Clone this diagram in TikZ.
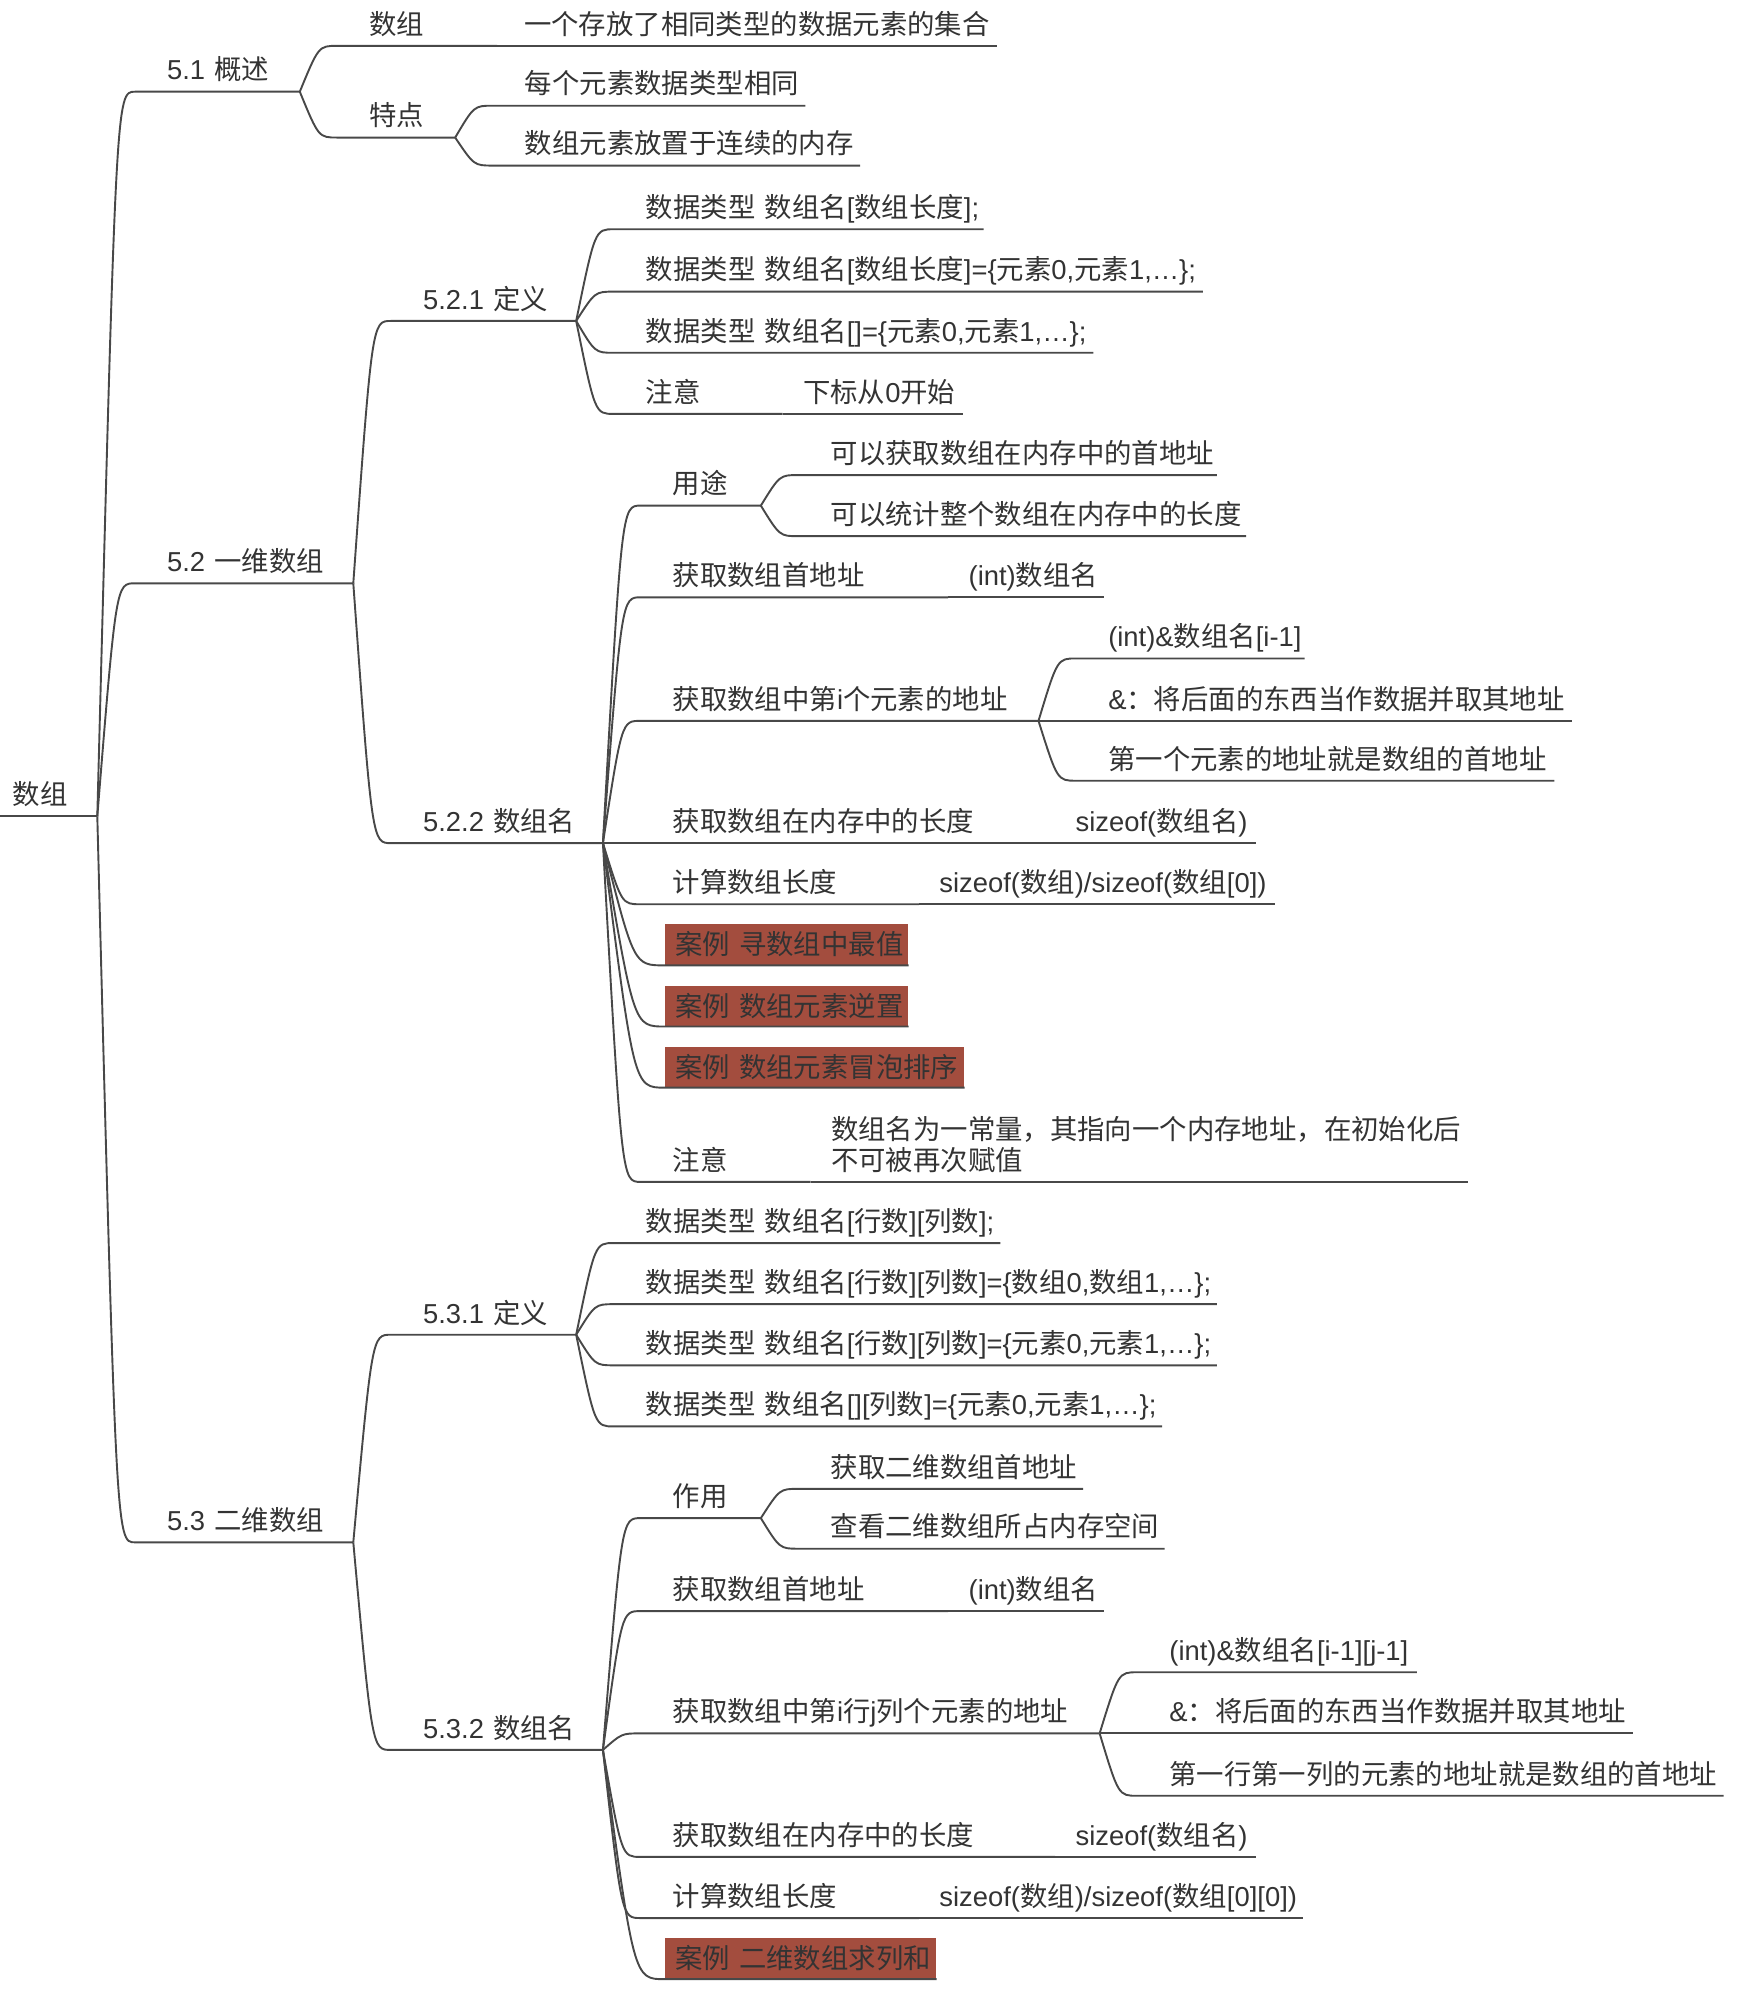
\documentclass[tikz,border=0pt]{standalone}
\usepackage{fontspec}
\setmainfont{Liberation Sans}
\newfontfamily\cjkfont{Noto Sans CJK SC}
\newfontfamily\latinfont{Liberation Sans}
\usepackage{tikz}
\usetikzlibrary{calc}

% Chinese characters switch to the CJK font by themselves
\XeTeXinterchartokenstate=1
\chardef\cjkclass=10
\newcount\cjkc
\newcommand\cjkrange[2]{\cjkc=#1
  \loop\XeTeXcharclass\cjkc=\cjkclass
  \ifnum\cjkc<#2 \advance\cjkc by 1 \repeat}
\cjkrange{"3000}{"303F}
\cjkrange{"4E00}{"9FFF}
\cjkrange{"FF00}{"FFEF}
\XeTeXinterchartoks 0 \cjkclass = {\cjkfont}
\XeTeXinterchartoks 4095 \cjkclass = {\cjkfont}
\XeTeXinterchartoks \cjkclass 0 = {\latinfont}
\XeTeXinterchartoks \cjkclass 4095 = {\latinfont}

\definecolor{lineGray}{RGB}{72,72,72}
\definecolor{textGray}{RGB}{51,51,51}
\definecolor{caseRed}{RGB}{163,77,62}

\begin{document}
\begin{tikzpicture}[x=1pt, y=-1pt,
  font=\fontsize{21.5pt}{24pt}\selectfont, text=textGray,
  link/.style={draw=lineGray, line width=1.5pt},
  branch/.style={to path={let \p1=(\tikztostart), \p2=(\tikztotarget) in
    .. controls ({0.5*\x1+0.5*\x2},\y2) .. (\tikztotarget)}},
  pad/.style={execute at begin node={\leftskip=#1\rightskip=0pt minus 300pt\relax
    \exhyphenpenalty=10000 }},
  topic/.style={anchor=south west, inner xsep=0pt, inner ysep=9pt, text width=#1,
    text height=16pt, text depth=0pt, pad=25pt},
  case/.style={topic=#1, inner ysep=8pt, fill=caseRed, pad=8pt}]
\useasboundingbox (0,0) rectangle (1370,1568);

% root and first level
\node[topic=76pt, pad=10pt] (root) at (0,641) {数组};
\node[topic=129pt] (s51) at (106,72) {5.1 概述};
\node[topic=171pt] (s52) at (106,458) {5.2 一维数组};
\node[topic=171pt] (s53) at (106,1211) {5.3 二维数组};

% 5.1
\node[topic=125pt] (arr) at (265,36) {数组};
\node[topic=392pt, pad=21pt] (arrdef) at (arr.south east) {一个存放了相同类型的数据元素的集合};
\node[topic=92pt] (feat) at (265,108) {特点};
\node[topic=245pt] (feat1) at (387,83) {每个元素数据类型相同};
\node[topic=288pt] (feat2) at (387,130) {数组元素放置于连续的内存};

% 5.2
\node[topic=145pt] (def1) at (307,252) {5.2.1 定义};
\node[topic=290pt] (def1a) at (482,180) {数据类型 数组名[数组长度];};
\node[topic=462pt] (def1b) at (482,229) {数据类型 数组名[数组长度]=\{元素0,元素1,…\};};
\node[topic=376pt] (def1c) at (482,277) {数据类型 数组名[]=\{元素0,元素1,…\};};
\node[topic=132pt] (def1d) at (482,325) {注意};
\node[topic=141pt, pad=16pt] (def1e) at (def1d.south east) {下标从0开始};

\node[topic=166pt] (name1) at (307,662) {5.2.2 数组名};
\node[topic=94pt] (use1) at (503,397) {用途};
\node[topic=328pt] (use1a) at (627,373) {可以获取数组在内存中的首地址};
\node[topic=351pt] (use1b) at (627,421) {可以统计整个数组在内存中的长度};
\node[topic=241pt] (addr1) at (503,469) {获取数组首地址};
\node[topic=122pt, pad=16pt] (addr1v) at (addr1.south east) {(int)数组名};
\node[topic=312pt] (elem1) at (503,566) {获取数组中第i个元素的地址};
\node[topic=179pt] (elem1a) at (845,517) {(int)\&数组名[i-1]};
\node[topic=389pt] (elem1b) at (845,566) {\&：将后面的东西当作数据并取其地址};
\node[topic=375pt] (elem1c) at (845,613) {第一个元素的地址就是数组的首地址};
\node[topic=325pt] (size1) at (503,662) {获取数组在内存中的长度};
\node[topic=157pt, pad=16pt] (size1v) at (size1.south east) {sizeof(数组名)};
\node[topic=218pt] (len1) at (503,710) {计算数组长度};
\node[topic=279pt, pad=16pt] (len1v) at (len1.south east) {sizeof(数组)/sizeof(数组[0])};
\node[case=191pt] (case1) at (522,758) {案例 寻数组中最值};
\node[case=191pt] (case2) at (522,806) {案例 数组元素逆置};
\node[case=235pt] (case3) at (522,854) {案例 数组元素冒泡排序};
\node[topic=133pt] (note1) at (503,928) {注意};
\node[topic=516pt, text depth=24pt, pad=16pt] (note1v) at (note1.south east)
  {数组名为一常量，其指向一个内存地址，在初始化后\\不可被再次赋值};

% 5.3
\node[topic=145pt] (def2) at (307,1048) {5.3.1 定义};
\node[topic=303pt] (def2a) at (482,976) {数据类型 数组名[行数][列数];};
\node[topic=473pt] (def2b) at (482,1024) {数据类型 数组名[行数][列数]=\{数组0,数组1,…\};};
\node[topic=473pt] (def2c) at (482,1072) {数据类型 数组名[行数][列数]=\{元素0,元素1,…\};};
\node[topic=430pt] (def2d) at (482,1120) {数据类型 数组名[][列数]=\{元素0,元素1,…\};};

\node[topic=166pt] (name2) at (307,1374) {5.3.2 数组名};
\node[topic=94pt] (use2) at (503,1192) {作用};
\node[topic=223pt] (use2a) at (627,1169) {获取二维数组首地址};
\node[topic=287pt] (use2b) at (627,1216) {查看二维数组所占内存空间};
\node[topic=241pt] (addr2) at (503,1265) {获取数组首地址};
\node[topic=122pt, pad=16pt] (addr2v) at (addr2.south east) {(int)数组名};
\node[topic=360pt] (elem2) at (503,1361) {获取数组中第i行j列个元素的地址};
\node[topic=219pt] (elem2a) at (893,1313) {(int)\&数组名[i-1][j-1]};
\node[topic=389pt] (elem2b) at (893,1361) {\&：将后面的东西当作数据并取其地址};
\node[topic=460pt] (elem2c) at (893,1410) {第一行第一列的元素的地址就是数组的首地址};
\node[topic=325pt] (size2) at (503,1458) {获取数组在内存中的长度};
\node[topic=157pt, pad=16pt] (size2v) at (size2.south east) {sizeof(数组名)};
\node[topic=218pt] (len2) at (503,1506) {计算数组长度};
\node[topic=301pt, pad=16pt] (len2v) at (len2.south east) {sizeof(数组)/sizeof(数组[0][0])};
\node[case=213pt] (case4) at (522,1554) {案例 二维数组求列和};

% branches
\draw[link] (root.south west) -- (root.south east);
\foreach \c in {s51,s52,s53}
  \draw[link] (root.south east) to[branch] (\c.south west) -- (\c.south east);
\foreach \c in {arr,feat}
  \draw[link] (s51.south east) to[branch] (\c.south west) -- (\c.south east);
\foreach \c in {feat1,feat2}
  \draw[link] (feat.south east) to[branch] (\c.south west) -- (\c.south east);
\foreach \c in {def1,name1}
  \draw[link] (s52.south east) to[branch] (\c.south west) -- (\c.south east);
\foreach \c in {def1a,def1b,def1c,def1d}
  \draw[link] (def1.south east) to[branch] (\c.south west) -- (\c.south east);
\foreach \c in {use1,addr1,elem1,size1,len1,case1,case2,case3,note1}
  \draw[link] (name1.south east) to[branch] (\c.south west) -- (\c.south east);
\foreach \c in {use1a,use1b}
  \draw[link] (use1.south east) to[branch] (\c.south west) -- (\c.south east);
\foreach \c in {elem1a,elem1b,elem1c}
  \draw[link] (elem1.south east) to[branch] (\c.south west) -- (\c.south east);
\foreach \c in {def2,name2}
  \draw[link] (s53.south east) to[branch] (\c.south west) -- (\c.south east);
\foreach \c in {def2a,def2b,def2c,def2d}
  \draw[link] (def2.south east) to[branch] (\c.south west) -- (\c.south east);
\foreach \c in {use2,addr2,elem2,size2,len2,case4}
  \draw[link] (name2.south east) to[branch] (\c.south west) -- (\c.south east);
\foreach \c in {use2a,use2b}
  \draw[link] (use2.south east) to[branch] (\c.south west) -- (\c.south east);
\foreach \c in {elem2a,elem2b,elem2c}
  \draw[link] (elem2.south east) to[branch] (\c.south west) -- (\c.south east);
% single children carry the line on
\foreach \c in {arrdef,def1e,addr1v,size1v,len1v,note1v,addr2v,size2v,len2v}
  \draw[link] (\c.south west) -- (\c.south east);
\end{tikzpicture}
\end{document}
